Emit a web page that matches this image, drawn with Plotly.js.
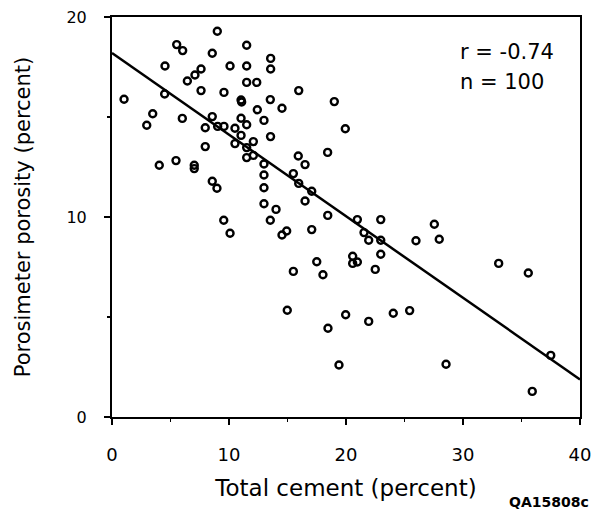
<!DOCTYPE html>
<html><head><meta charset="utf-8">
<script src="https://cdn.plot.ly/plotly-3.0.1.min.js"></script>
<style>html,body{margin:0;padding:0;background:#fff}</style>
</head><body><div id="chart" style="width:600px;height:511px"></div>
<script>
// Total cement (percent)
const cementPct = [9.00,5.53,6.04,11.51,8.57,4.53,10.09,11.51,7.61,7.09,
  6.44,11.51,12.37,7.61,9.57,4.50,11.03,11.08,1.03,12.42,
  3.48,6.01,8.57,11.03,2.97,7.97,9.03,9.57,10.51,11.51,
  11.03,10.51,12.08,11.51,7.97,13.56,13.56,15.96,19.00,13.53,
  14.53,12.99,19.94,13.55,18.43,11.51,12.08,4.04,5.47,7.03,
  7.03,8.57,8.97,9.55,10.09,15.92,16.50,12.99,15.50,12.99,
  15.96,17.07,12.99,16.50,12.99,14.02,18.44,13.53,20.97,22.97,
  14.93,14.53,17.07,21.54,21.94,22.97,25.98,22.97,20.57,20.97,
  20.57,17.50,22.50,15.50,18.03,14.98,19.97,18.46,21.94,24.04,
  25.44,19.40,27.55,27.97,33.05,35.58,28.55,37.50,35.92];
// Porosimeter porosity (percent)
const porosityPct = [19.29,18.62,18.32,18.59,18.19,17.55,17.55,17.55,17.40,17.10,
  16.80,16.73,16.73,16.32,16.23,16.15,15.85,15.75,15.89,15.36,
  15.16,14.93,15.02,14.94,14.59,14.46,14.53,14.53,14.44,14.61,
  14.08,13.67,13.77,13.47,13.52,17.93,17.40,16.32,15.77,15.87,
  15.44,14.83,14.41,14.02,13.23,12.97,13.08,12.59,12.82,12.59,
  12.42,11.79,11.44,9.84,9.19,13.05,12.62,12.65,12.17,12.10,
  11.68,11.29,11.46,10.80,10.66,10.38,10.08,9.84,9.87,9.87,
  9.30,9.10,9.37,9.22,8.84,8.84,8.81,8.14,8.04,7.75,
  7.68,7.76,7.38,7.28,7.11,5.34,5.11,4.44,4.78,5.19,
  5.32,2.60,9.64,8.89,7.68,7.20,2.64,3.08,1.28];
// Regression line
const fitIntercept = 18.2;
const fitSlope = -0.408;
const fitRangeX = [0, 40];
// Tick labels
const xTickVals = [0, 10, 20, 30, 40];
const yTickVals = [0, 10, 20];
const statsText = ["r = -0.74", "n = 100"];
const figureId = "QA15808c";

const FONT = "DejaVu Sans, Liberation Sans, Arial, sans-serif";

const traces = [
  {
    type: "scatter", mode: "lines",
    x: fitRangeX, y: fitRangeX.map(v => fitIntercept + fitSlope * v),
    line: {color: "#000", width: 2.5}, hoverinfo: "skip", showlegend: false
  },
  {
    type: "scatter", mode: "markers",
    x: cementPct, y: porosityPct,
    marker: {symbol: "circle-open", size: 7, color: "#000", line: {color: "#000", width: 2.4}},
    showlegend: false
  }
];

const axisCommon = {
  showgrid: false, zeroline: false, showline: true, linecolor: "#000", linewidth: 2,
  mirror: true, ticks: "outside", ticklen: 6, tickwidth: 2, tickcolor: "#000",
  fixedrange: true
};

const layout = {
  width: 600, height: 511,
  margin: {l: 112, r: 20, t: 17, b: 94, pad: 0},
  paper_bgcolor: "#fff", plot_bgcolor: "#fff",
  font: {family: FONT, color: "#000"},
  showlegend: false,
  xaxis: Object.assign({}, axisCommon, {
    range: fitRangeX, tickvals: xTickVals, ticktext: xTickVals.map(String),
    tickfont: {family: FONT, size: 18, color: "#000"},
    ticklabelstandoff: 14,
    automargin: "bottom",
    minor: {dtick: 5, tick0: 0, ticks: "outside", ticklen: 3, tickwidth: 1.5, tickcolor: "#000", showgrid: false},
    title: {text: "Total cement (percent)", standoff: 16, font: {family: FONT, size: 23, color: "#000"}}
  }),
  yaxis: Object.assign({}, axisCommon, {
    range: [0, 20], tickvals: yTickVals, ticktext: yTickVals.map(String),
    tickfont: {family: FONT, size: 16, color: "#000"},
    ticklabelstandoff: 14,
    automargin: "left",
    minor: {dtick: 5, tick0: 0, ticks: "outside", ticklen: 3, tickwidth: 1.5, tickcolor: "#000", showgrid: false},
    title: {text: "Porosimeter porosity (percent)", standoff: 30, font: {family: FONT, size: 21, color: "#000"}}
  }),
  annotations: [
    {xref: "paper", yref: "paper", x: 0.739, y: 0.9125, xanchor: "left", yanchor: "middle",
     text: statsText[0], showarrow: false, font: {family: FONT, size: 21, color: "#000"}},
    {xref: "paper", yref: "paper", x: 0.739, y: 0.8375, xanchor: "left", yanchor: "middle",
     text: statsText[1], showarrow: false, font: {family: FONT, size: 21, color: "#000"}},
    {xref: "paper", yref: "paper", x: 0.933, y: -0.2125, xanchor: "center", yanchor: "middle",
     text: figureId, showarrow: false, font: {family: FONT, size: 14, color: "#000", weight: "bold"}}
  ]
};

Plotly.newPlot("chart", traces, layout, {displayModeBar: false, staticPlot: true});
</script></body></html>
